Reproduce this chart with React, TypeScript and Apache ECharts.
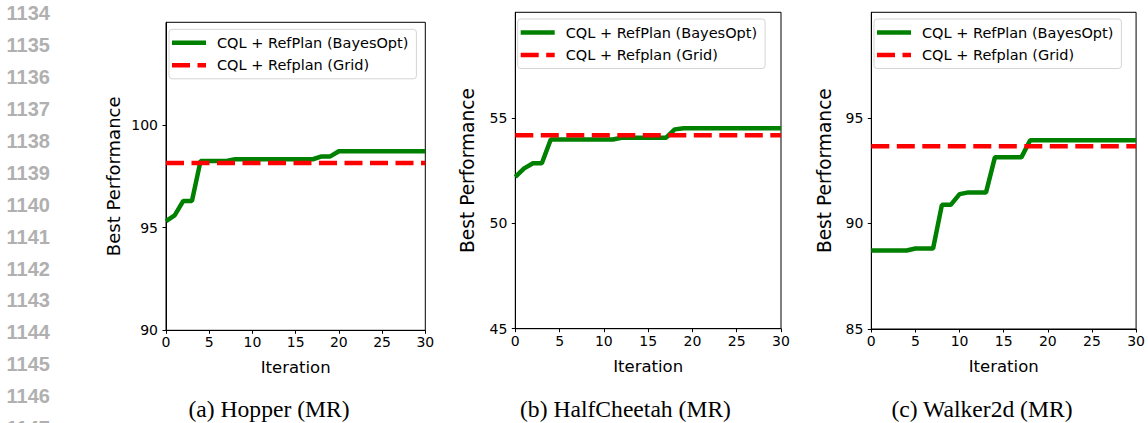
import React, { useEffect, useRef } from "react";
import * as echarts from "echarts";

// ---- data ----
const iterations = [0, 1, 2, 3, 4, 5, 6, 7, 8, 9, 10, 11, 12, 13, 14, 15, 16, 17, 18, 19, 20, 21, 22, 23, 24, 25, 26, 27, 28, 29, 30];

const hopperBayes = [
  95.32, 95.6, 96.3, 96.3, 98.25, 98.25, 98.25, 98.25, 98.33, 98.33,
  98.33, 98.33, 98.33, 98.33, 98.33, 98.33, 98.33, 98.33, 98.47, 98.47,
  98.72, 98.72, 98.72, 98.72, 98.72, 98.72, 98.72, 98.72, 98.72, 98.72, 98.72,
];
const hopperGrid = 98.15;

const halfCheetahBayes = [
  52.2, 52.6, 52.84, 52.84, 53.97, 53.97, 53.97, 53.97, 53.97, 53.97,
  53.97, 53.97, 54.05, 54.05, 54.05, 54.05, 54.05, 54.05, 54.45, 54.5,
  54.5, 54.5, 54.5, 54.5, 54.5, 54.5, 54.5, 54.5, 54.5, 54.5, 54.5,
];
const halfCheetahGrid = 54.17;

const walkerBayes = [
  88.72, 88.72, 88.72, 88.72, 88.72, 88.81, 88.81, 88.81, 90.88, 90.88,
  91.39, 91.47, 91.47, 91.47, 93.13, 93.13, 93.13, 93.13, 93.94, 93.94,
  93.94, 93.94, 93.94, 93.94, 93.94, 93.94, 93.94, 93.94, 93.94, 93.94, 93.94,
];
const walkerGrid = 93.65;

const yRanges = [
  [90, 105],
  [45, 60],
  [85, 100],
];
const yTickLabels = [
  [90, 95, 100],
  [45, 50, 55],
  [85, 90, 95],
];
const xTickLabels = [0, 5, 10, 15, 20, 25, 30];

const captions = ["(a) Hopper (MR)", "(b) HalfCheetah (MR)", "(c) Walker2d (MR)"];
const lineNumbers = [1134, 1135, 1136, 1137, 1138, 1139, 1140, 1141, 1142, 1143, 1144, 1145, 1146, 1147];

const bayesName = "CQL + RefPlan (BayesOpt)";
const gridName = "CQL + Refplan (Grid)";

// ---- layout ----
const grids = [
  { left: 166, top: 22.3, width: 259.3, height: 308 },
  { left: 515.3, top: 12.3, width: 265.7, height: 316.4 },
  { left: 871.3, top: 12.3, width: 266, height: 316.7 },
];
const legendPos = [
  { left: 169, top: 29.3 },
  { left: 517.7, top: 19 },
  { left: 874, top: 19 },
];
const yNameGaps = [44, 38.5, 37];
const yNameSizes = [18, 18.6, 18.6];
const captionX = [269, 625.5, 982];

const FONT = "DejaVu Sans";

const solidIcon = "path://M0,0H34V4.5H0Z";
const dashedIcon = "path://M0,0H18V4.5H0Z M25.5,0H34V4.5H25.5Z";

function buildOption() {
  const bayesSets = [hopperBayes, halfCheetahBayes, walkerBayes];
  const gridSets = [hopperGrid, halfCheetahGrid, walkerGrid];

  const xAxis = grids.map((_, i) => ({
    type: "value",
    gridIndex: i,
    min: xTickLabels[0],
    max: xTickLabels[xTickLabels.length - 1],
    interval: 5,
    name: "Iteration",
    nameLocation: "middle",
    nameGap: 29,
    nameTextStyle: { fontFamily: FONT, fontSize: 16.5, color: "#000" },
    axisLine: { show: true, onZero: false, lineStyle: { color: "#000", width: 1 } },
    axisTick: { show: true, length: 3.5, inside: false, lineStyle: { color: "#000", width: 1 } },
    axisLabel: { fontFamily: FONT, fontSize: 14, color: "#000", margin: 5 },
    splitLine: { show: false },
  }));

  const yAxis = grids.map((_, i) => ({
    type: "value",
    gridIndex: i,
    min: yRanges[i][0],
    max: yRanges[i][1],
    interval: 5,
    name: "Best Performance",
    nameLocation: "middle",
    nameGap: yNameGaps[i],
    nameTextStyle: { fontFamily: FONT, fontSize: yNameSizes[i], color: "#000" },
    axisLine: { show: true, onZero: false, lineStyle: { color: "#000", width: 1 } },
    axisTick: {
      show: true,
      length: 3.5,
      inside: false,
      customValues: yTickLabels[i],
      lineStyle: { color: "#000", width: 1 },
    },
    axisLabel: {
      fontFamily: FONT,
      fontSize: 14,
      color: "#000",
      margin: 8,
      customValues: yTickLabels[i],
    },
    splitLine: { show: false },
  }));

  const series: any[] = [];
  bayesSets.forEach((vals, i) => {
    series.push({
      type: "line",
      name: bayesName,
      xAxisIndex: i,
      yAxisIndex: i,
      data: iterations.map((it, k) => [it, vals[k]]),
      symbol: "none",
      showSymbol: false,
      lineStyle: { color: "#008000", width: 4.5 },
      itemStyle: { color: "#008000" },
      z: 2,
    });
  });
  gridSets.forEach((v, i) => {
    series.push({
      type: "line",
      name: gridName,
      xAxisIndex: i,
      yAxisIndex: i,
      data: [
        [iterations[0], v],
        [iterations[iterations.length - 1], v],
      ],
      symbol: "none",
      showSymbol: false,
      lineStyle: { color: "#ff0000", width: 4.5, type: [18, 7.5] },
      itemStyle: { color: "#ff0000" },
      z: 3,
    });
  });

  const legend = legendPos.map((p) => ({
    show: true,
    orient: "vertical",
    left: p.left,
    top: p.top,
    data: [
      { name: bayesName, icon: solidIcon },
      { name: gridName, icon: dashedIcon },
    ],
    selectedMode: false,
    itemWidth: 34,
    itemHeight: 14,
    itemGap: 7.5,
    symbolKeepAspect: true,
    padding: [6, 8, 6, 3],
    borderColor: "#d4d4d4",
    borderWidth: 1,
    borderRadius: 3,
    backgroundColor: "rgba(255,255,255,0.8)",
    itemStyle: { borderWidth: 0 },
    textStyle: { fontFamily: FONT, fontSize: 14.5, color: "#000", padding: [0, 0, 0, 6] },
  }));

  const graphic: any[] = [];
  lineNumbers.forEach((n, i) => {
    graphic.push({
      type: "text",
      x: 6.5,
      y: 13.3 + i * 31.9,
      style: {
        text: String(n),
        font: "bold 20px 'Liberation Sans', Arial, sans-serif",
        fill: "#b0b0b0",
        textAlign: "left",
        textVerticalAlign: "middle",
      },
      silent: true,
    });
  });
  captions.forEach((c, i) => {
    graphic.push({
      type: "text",
      x: captionX[i],
      y: 408.5,
      style: {
        text: c,
        font: "23.6px 'Liberation Serif', 'Times New Roman', serif",
        fill: "#000",
        textAlign: "center",
        textVerticalAlign: "middle",
      },
      silent: true,
    });
  });

  return {
    animation: false,
    backgroundColor: "#fff",
    grid: grids.map((g) => ({
      ...g,
      show: true,
      borderColor: "#000",
      borderWidth: 1,
      backgroundColor: "transparent",
      containLabel: false,
    })),
    xAxis,
    yAxis,
    legend,
    series,
    graphic,
  };
}

export default function App() {
  const ref = useRef<HTMLDivElement>(null);
  useEffect(() => {
    if (!ref.current) return;
    const chart = echarts.init(ref.current, null, { renderer: "svg" });
    chart.setOption(buildOption() as any);
    return () => {
      chart.dispose();
    };
  }, []);
  return (
    <div
      ref={ref}
      style={{ position: "absolute", left: 0, top: 0, width: 1148, height: 423, background: "#fff" }}
    />
  );
}
